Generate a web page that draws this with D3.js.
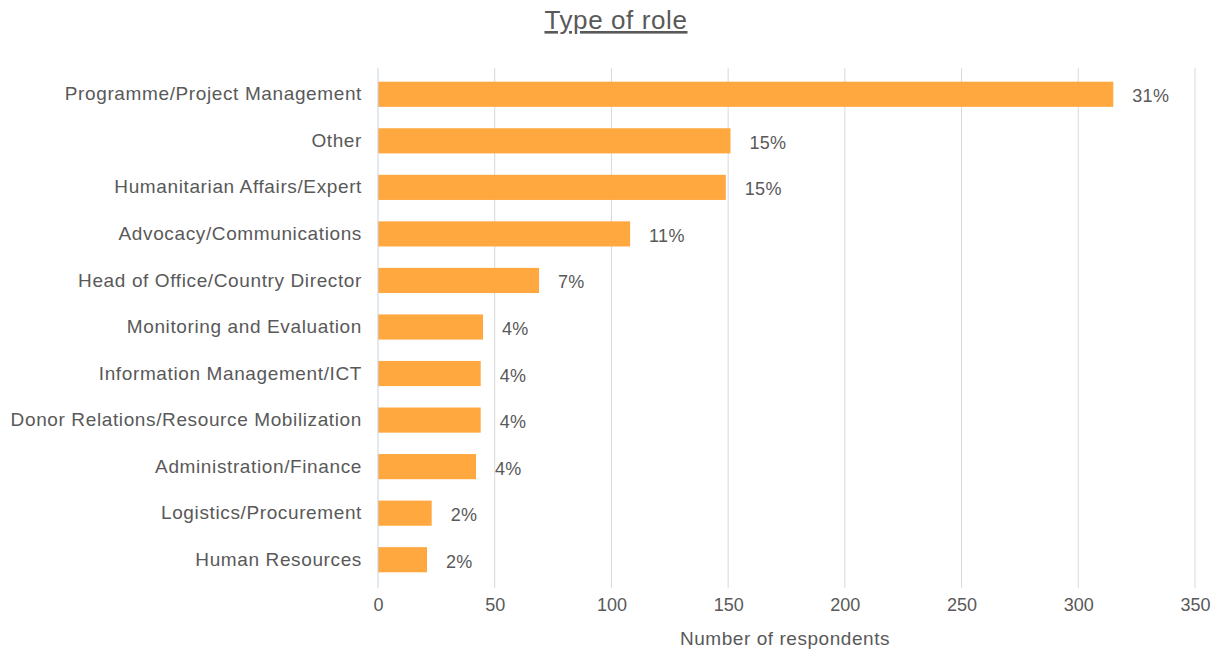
<!DOCTYPE html>
<html>
<head>
<meta charset="utf-8">
<script src="https://cdn.jsdelivr.net/npm/d3@7"></script>
<style>
  body { margin: 0; background: #fff; }
  text { font-family: "Liberation Sans", Arial, sans-serif; }
</style>
</head>
<body>
<svg id="chart" width="1212" height="651"></svg>
<script>
const roles = [
  "Programme/Project Management",
  "Other",
  "Humanitarian Affairs/Expert",
  "Advocacy/Communications",
  "Head of Office/Country Director",
  "Monitoring and Evaluation",
  "Information Management/ICT",
  "Donor Relations/Resource Mobilization",
  "Administration/Finance",
  "Logistics/Procurement",
  "Human Resources",
];
const respondents = [315, 151, 149, 108, 69, 45, 44, 44, 42, 23, 21];
const shareLabels = ["31%", "15%", "15%", "11%", "7%", "4%", "4%", "4%", "4%", "2%", "2%"];
const xTicks = [0, 50, 100, 150, 200, 250, 300, 350];

const BAR_COLOR = "#FFA83F";
const TEXT_COLOR = "#595959";
const GRID_COLOR = "#d9d9d9";

const svg = d3.select("#chart");
const margin = { top: 71, left: 378, right: 17, bottom: 68 };
const width = 1212;
const height = 651;

const x = d3.scaleLinear().domain([0, 350]).range([margin.left, width - margin.right]);
const y = d3
  .scaleBand()
  .domain(roles)
  .range([margin.top, height - margin.bottom])
  .paddingInner(0.46)
  .paddingOuter(0.23);

// title
svg
  .append("text")
  .attr("x", 616)
  .attr("y", 29)
  .attr("text-anchor", "middle")
  .attr("fill", TEXT_COLOR)
  .attr("font-size", "26px")
  .attr("letter-spacing", "0.6px")
  .attr("text-decoration", "underline")
  .text("Type of role");

// gridlines
svg
  .append("g")
  .selectAll("line")
  .data(xTicks.slice(1))
  .join("line")
  .attr("x1", (d) => x(d))
  .attr("x2", (d) => x(d))
  .attr("y1", 68)
  .attr("y2", 588)
  .attr("stroke", GRID_COLOR)
  .attr("stroke-width", 1);

// bars
svg
  .append("g")
  .selectAll("rect")
  .data(roles)
  .join("rect")
  .attr("x", x(0))
  .attr("y", (d) => y(d))
  .attr("width", (d, i) => x(respondents[i]) - x(0))
  .attr("height", y.bandwidth())
  .attr("fill", BAR_COLOR);

// zero axis line
svg
  .append("line")
  .attr("x1", x(0))
  .attr("x2", x(0))
  .attr("y1", 68)
  .attr("y2", 588)
  .attr("stroke", "#c5d3e6")
  .attr("stroke-width", 1);

// value labels
svg
  .append("g")
  .selectAll("text")
  .data(roles)
  .join("text")
  .attr("x", (d, i) => x(respondents[i]) + 19)
  .attr("y", (d) => y(d) + y.bandwidth() / 2 + 8)
  .attr("fill", TEXT_COLOR)
  .attr("font-size", "18px")
  .attr("letter-spacing", "0.3px")
  .text((d, i) => shareLabels[i]);

// category axis
const yAxis = svg
  .append("g")
  .attr("transform", `translate(${x(0)},0)`)
  .call(d3.axisLeft(y).tickSize(0).tickPadding(16));
yAxis.select(".domain").remove();
yAxis
  .selectAll("text")
  .attr("fill", TEXT_COLOR)
  .attr("font-size", "19px")
  .attr("letter-spacing", "0.62px")
  .attr("font-family", "'Liberation Sans', Arial, sans-serif");

// value axis
const xAxis = svg
  .append("g")
  .attr("transform", `translate(0,588)`)
  .call(d3.axisBottom(x).tickValues(xTicks).tickSize(0).tickPadding(10));
xAxis.select(".domain").remove();
xAxis
  .selectAll("text")
  .attr("fill", TEXT_COLOR)
  .attr("font-size", "18px")
  .attr("font-family", "'Liberation Sans', Arial, sans-serif");

svg
  .append("text")
  .attr("x", 785)
  .attr("y", 645)
  .attr("text-anchor", "middle")
  .attr("fill", TEXT_COLOR)
  .attr("font-size", "19px")
  .attr("letter-spacing", "0.55px")
  .text("Number of respondents");
</script>
</body>
</html>
